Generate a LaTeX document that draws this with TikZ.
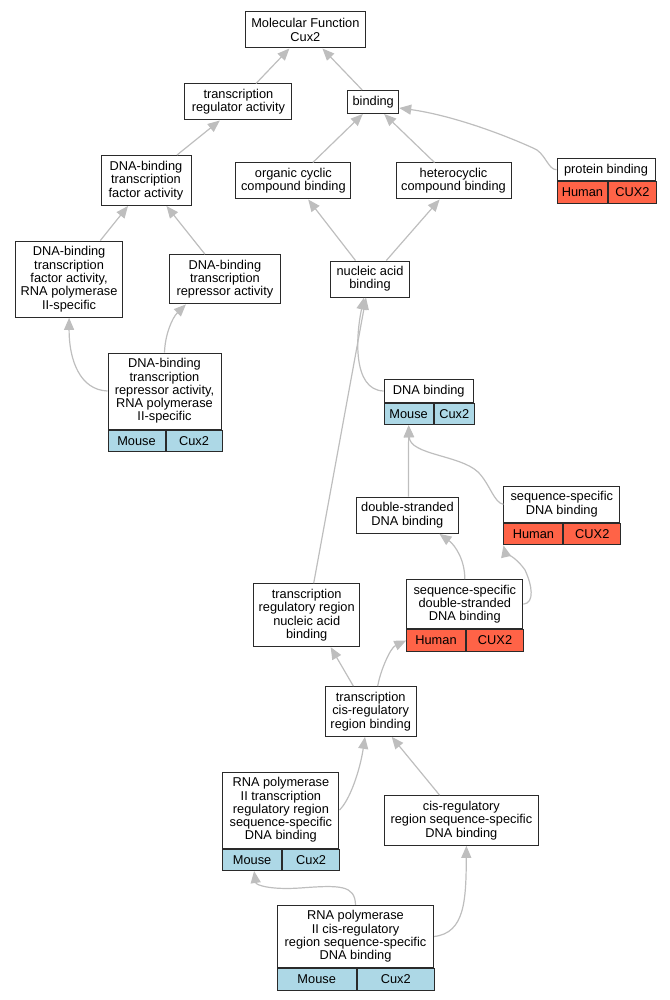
\documentclass[tikz,border=0pt]{standalone}
\usepackage{fontspec}
\setmainfont{Liberation Sans}
\usepackage{tikz}
\usetikzlibrary{arrows.meta}

\definecolor{edgegray}{HTML}{BEBEBE}
\definecolor{mousecol}{HTML}{ADD8E6}
\definecolor{humancol}{HTML}{FF6347}
\definecolor{boxline}{HTML}{2A2A2A}

\begin{document}
\begin{tikzpicture}[x=1pt,y=-1pt,
        term/.style={draw=boxline,line width=1pt,fill=white,align=center,inner sep=0pt,
            font=\fontsize{12.8}{13.3}\selectfont},
        cell/.style={draw=boxline,line width=1pt,inner sep=0pt,minimum height=21.5pt,
            anchor=north west,font=\fontsize{12.8}{13.3}\selectfont},
        mouse/.style={cell,fill=mousecol},
        human/.style={cell,fill=humancol},
        isa/.style={draw=edgegray,line width=1.2pt,-{Triangle[length=12pt,width=10pt]}}]
        \useasboundingbox (0,0) rectangle (669,1000);

        % terms
        \node[term,minimum width=120pt,minimum height=36pt] (mf) at (305.4,30) {Molecular Function\\Cux2};
        \node[term,minimum width=107pt,minimum height=36pt] (tra) at (238.4,102) {transcription\\regulator activity};
        \node[term,minimum width=51pt,minimum height=23pt] (bind) at (373.2,102) {binding};
        \node[term,minimum width=90pt,minimum height=50pt] (dbtf) at (146,180.5) {DNA-binding\\transcription\\factor activity};
        \node[term,minimum width=115pt,minimum height=36pt] (occb) at (293.4,181) {organic cyclic\\compound binding};
        \node[term,minimum width=115pt,minimum height=36pt] (hccb) at (453.5,181) {heterocyclic\\compound binding};
        \node[term,minimum width=98pt,minimum height=22pt] (prot) at (606,169.7) {protein binding};
        \node[term,minimum width=106.7pt,minimum height=76.3pt] (dbtf2) at (69.1,279.2) {DNA-binding\\transcription\\factor activity,\\RNA polymerase\\II-specific};
        \node[term,minimum width=111pt,minimum height=49.3pt] (dbtr) at (224.9,279.3) {DNA-binding\\transcription\\repressor activity};
        \node[term,minimum width=78.5pt,minimum height=36pt] (nab) at (370,279) {nucleic acid\\binding};
        \node[term,minimum width=113pt,minimum height=76pt] (dbtr2) at (164.5,391) {DNA-binding\\transcription\\repressor activity,\\RNA polymerase\\II-specific};
        \node[term,minimum width=89.2pt,minimum height=22.6pt] (dnab) at (428.7,391) {DNA binding};
        \node[term,minimum width=102.8pt,minimum height=36.3pt] (dsdb) at (407.4,515.2) {double-stranded\\DNA binding};
        \node[term,minimum width=115.7pt,minimum height=36pt] (ssdb) at (561.8,504.3) {sequence-specific\\DNA binding};
        \node[term,minimum width=106.3pt,minimum height=63pt] (trrnab) at (306.7,615.2) {transcription\\regulatory region\\nucleic acid\\binding};
        \node[term,minimum width=116.1pt,minimum height=49pt] (ssdsdb) at (464.8,604.2) {sequence-specific\\double-stranded\\DNA binding};
        \node[term,minimum width=91pt,minimum height=49.7pt] (tcrrb) at (370.7,711.5) {transcription\\cis-regulatory\\region binding};
        \node[term,minimum width=116.1pt,minimum height=76pt] (rp2tr) at (280.9,810) {RNA polymerase\\II transcription\\regulatory region\\sequence-specific\\DNA binding};
        \node[term,minimum width=154.5pt,minimum height=49.7pt] (crrssdb) at (461.4,820.5) {cis-regulatory\\region sequence-specific\\DNA binding};
        \node[term,minimum width=156.2pt,minimum height=62.4pt] (rp2cr) at (355.5,936.5) {RNA polymerase\\II cis-regulatory\\region sequence-specific\\DNA binding};

        % species / gene cells
        \node[human,minimum width=50.8pt] (prot-sp) at (prot.south west) {Human};
        \node[human,minimum width=47.2pt] (prot-gn) at (prot-sp.north east) {CUX2};
        \node[mouse,minimum width=57pt] (dbtr2-sp) at (dbtr2.south west) {Mouse};
        \node[mouse,minimum width=56pt] (dbtr2-gn) at (dbtr2-sp.north east) {Cux2};
        \node[mouse,minimum width=49.1pt] (dnab-sp) at (dnab.south west) {Mouse};
        \node[mouse,minimum width=40.1pt] (dnab-gn) at (dnab-sp.north east) {Cux2};
        \node[human,minimum width=59pt] (ssdb-sp) at (ssdb.south west) {Human};
        \node[human,minimum width=56.7pt] (ssdb-gn) at (ssdb-sp.north east) {CUX2};
        \node[human,minimum width=58.5pt] (ssdsdb-sp) at (ssdsdb.south west) {Human};
        \node[human,minimum width=57.6pt] (ssdsdb-gn) at (ssdsdb-sp.north east) {CUX2};
        \node[mouse,minimum width=58.5pt] (rp2tr-sp) at (rp2tr.south west) {Mouse};
        \node[mouse,minimum width=57.6pt] (rp2tr-gn) at (rp2tr-sp.north east) {Cux2};
        \node[mouse,minimum width=78.6pt] (rp2cr-sp) at (rp2cr.south west) {Mouse};
        \node[mouse,minimum width=77.6pt] (rp2cr-gn) at (rp2cr-sp.north east) {Cux2};

        % is-a edges
        \draw[isa] ([xshift=17.6pt]tra.north) -- ([xshift=-16pt]mf.south);
        \draw[isa] ([xshift=-11pt]bind.north) -- ([xshift=17pt]mf.south);
        \draw[isa] ([xshift=31pt]dbtf.north) -- ([xshift=-18.6pt]tra.south);
        \draw[isa] ([xshift=19.4pt]occb.north) -- ([xshift=-10.4pt]bind.south);
        \draw[isa] ([xshift=-19pt]hccb.north) -- ([xshift=11pt]bind.south);
        \draw[isa] (prot.west) .. controls (548,170) and (545,152) .. (533,148)
            .. controls (500,133) and (450,115) .. ([yshift=-6pt]bind.east);
        \draw[isa] ([xshift=31.2pt]dbtf2.north) -- ([xshift=-18pt]dbtf.south);
        \draw[isa] ([xshift=-20pt]dbtr.north) -- ([xshift=20.5pt]dbtf.south);
        \draw[isa] ([xshift=-14.5pt]nab.north) -- ([xshift=14.8pt]occb.south);
        \draw[isa] ([xshift=16.3pt]nab.north) -- ([xshift=-13.9pt]hccb.south);
        \draw[isa] (dbtr2.west) .. controls (80,390) and (69,360) .. (dbtf2.south);
        \draw[isa] (dbtr2.north) .. controls (165,335) and (172,318) .. ([xshift=-39pt]dbtr.south);
        \draw[isa] (dnab.west) .. controls (352,390) and (356,335) .. ([xshift=-6pt]nab.south);
        \draw[isa] ([xshift=7pt]trrnab.north) -- ([xshift=-4pt]nab.south);
        \draw[isa] ([xshift=1pt]dsdb.north) -- (dnab-sp.south);
        \draw[isa] (ssdb.west) .. controls (494,503) and (490,484) .. (478,472)
            .. controls (460,455) and (410,455) .. (dnab-sp.south);
        \draw[isa] (ssdsdb.north) .. controls (465,560) and (455,545) .. ([xshift=32pt]dsdb.south);
        \draw[isa] (ssdsdb.east) .. controls (535,603) and (532,585) .. (525,570)
            .. controls (515,556) and (505,552) .. (ssdb-sp.south west);
        \draw[isa] ([xshift=-17.3pt]tcrrb.north) -- ([xshift=24pt]trrnab.south);
        \draw[isa] ([xshift=7pt]tcrrb.north) .. controls (380,672) and (390,648) .. (ssdsdb-sp.west);
        \draw[isa] (rp2tr.east) .. controls (350,800) and (360,770) .. ([xshift=-5.7pt]tcrrb.south);
        \draw[isa] ([xshift=-21.8pt]crrssdb.north) -- ([xshift=21pt]tcrrb.south);
        \draw[isa] (rp2cr.north) .. controls (355,885) and (340,885) .. (300,888)
            .. controls (270,890) and (256,885) .. ([xshift=2pt]rp2tr-sp.south);
        \draw[isa] (rp2cr.east) .. controls (465,933) and (466,900) .. ([xshift=5pt]crrssdb.south);
\end{tikzpicture}
\end{document}
